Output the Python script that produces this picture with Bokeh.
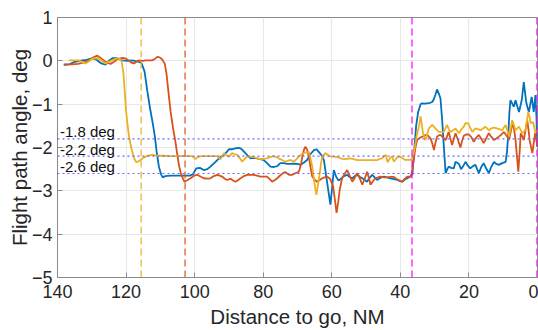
from bokeh.plotting import figure
from bokeh.models import Range1d, Span, Label, FixedTicker
from bokeh.embed import file_html
from bokeh.resources import INLINE

# ---------------- data ----------------
blue_x = [138.2, 136.5, 135.2, 132.8, 131.5, 130.0, 128.5, 127.2, 126.0, 125.0, 124.0, 122.6, 121.1, 119.5,
          118.2, 116.8, 115.5, 114.6, 113.8, 113.0, 112.2, 111.6, 111.0, 110.4, 109.8, 109.3, 108.6, 107.0,
          104.0, 101.5, 100.5, 99.5, 98.5, 97.3, 96.3, 95.4, 94.3, 93.4, 92.4, 91.5, 90.6, 90.0, 89.0, 88.1,
          87.2, 86.6, 85.9, 85.2, 84.4, 83.7, 82.7, 81.8, 80.8, 79.8, 78.9, 77.9, 76.9, 75.9, 75.0, 74.0,
          73.0, 72.0, 71.0, 70.0, 69.1, 68.2, 67.2, 66.2, 65.2, 64.5, 63.8, 63.0, 62.3, 61.8, 61.0, 60.4,
          60.0, 59.4, 58.7, 58.0, 57.3, 56.5, 55.5, 54.8, 54.0, 53.3, 52.6, 51.8, 51.1, 50.4, 49.7, 49.0,
          48.2, 47.5, 46.8, 45.8, 44.8, 43.9, 42.9, 41.9, 40.9, 40.2, 39.5, 38.7, 38.0, 37.2, 36.5, 35.9,
          35.4, 34.8, 34.1, 33.6, 32.9, 32.2, 31.4, 30.7, 30.2, 29.8, 29.3, 28.8, 28.3, 27.8, 27.3, 26.8,
          26.3, 25.9, 25.2, 24.4, 23.9, 22.9, 22.3, 21.6, 21.0, 20.3, 19.6, 18.8, 18.1, 17.6, 17.1, 16.4,
          15.7, 15.0, 14.2, 13.5, 12.7, 12.0, 11.3, 10.3, 9.3, 8.9, 8.5, 8.2, 7.9, 7.4, 6.9, 6.4, 5.9, 5.4,
          5.0, 4.6, 4.0, 3.6, 3.3, 2.9, 2.5, 2.1, 1.7, 1.4, 1.1, 0.8, 0.6, 0.3, 0.1]
blue_y = [-0.09, -0.08, -0.03, 0.01, 0.02, 0.06, 0.02, -0.06, -0.09, 0.0, 0.06, 0.06, 0.01, 0.0,
          0.01, -0.01, -0.05, -0.25, -0.7, -1.1, -1.45, -1.75, -2.15, -2.45, -2.62, -2.69, -2.66, -2.65,
          -2.65, -2.65, -2.62, -2.48, -2.47, -2.52, -2.5, -2.44, -2.36, -2.29, -2.22, -2.17, -2.1, -2.04, -2.04, -2.02,
          -2.01, -2.02, -2.07, -2.13, -2.2, -2.25, -2.24, -2.25, -2.27, -2.29, -2.36, -2.44, -2.45, -2.43, -2.36, -2.36,
          -2.38, -2.38, -2.37, -2.38, -2.40, -2.35, -2.29, -2.15, -2.06, -2.04, -2.10, -2.18, -2.29, -2.56, -3.0, -3.32,
          -3.0, -2.52, -2.68, -2.76, -2.72, -2.66, -2.63, -2.68, -2.71, -2.66, -2.63, -2.68, -2.71, -2.75, -2.79, -2.7,
          -2.63, -2.69, -2.75, -2.70, -2.67, -2.69, -2.71, -2.73, -2.75, -2.77, -2.79, -2.74, -2.71, -2.68, -2.62, -2.0,
          -1.5, -1.18, -1.0, -0.98, -0.99, -0.98, -0.97, -0.95, -0.88, -0.79, -0.66, -0.75, -0.87, -1.37, -2.0, -2.59,
          -2.5, -2.44, -2.47, -2.48, -2.33, -2.38, -2.5, -2.42, -2.33, -2.42, -2.48, -2.43, -2.40, -2.5, -2.59, -2.45,
          -2.36, -2.48, -2.59, -2.45, -2.33, -2.38, -2.40, -2.36, -2.33, -2.1, -1.67, -1.2, -0.91, -0.98, -1.06, -0.91, -1.05, -1.18,
          -1.05, -0.91, -0.49, -0.75, -0.95, -1.08, -1.18, -1.0, -0.83, -1.0, -1.18, -0.95, -0.79, -1.3, -1.98]

orange_x = [138.0, 136.0, 134.0, 132.5, 131.0, 129.5, 128.4, 127.5, 126.5, 125.5, 124.5, 123.5, 122.5, 121.1,
            120.0, 119.2, 118.5, 117.7, 117.0, 116.3, 115.0, 114.3, 113.0, 112.4, 111.5, 110.9, 110.2, 109.7,
            109.2, 108.7, 108.2, 107.6, 107.0, 106.3, 105.6, 105.0, 104.6, 104.0, 103.4, 103.0, 102.3, 101.2,
            100.2, 99.3, 98.3, 97.3, 96.3, 95.4, 94.4, 93.4, 92.7, 92.0, 91.2, 90.5, 89.5, 88.8, 88.1, 87.3,
            86.6, 85.6, 84.7, 83.7, 82.7, 81.8, 80.8, 79.8, 78.9, 78.1, 77.4, 76.6, 75.9, 75.0, 74.0, 73.5,
            72.5, 71.5, 70.5, 69.6, 69.0, 68.6, 68.1, 67.7, 67.2, 66.7, 66.2, 65.7, 65.0, 64.3, 63.5, 62.8,
            62.1, 61.4, 60.5, 59.6, 59.1, 58.6, 58.1, 57.7, 57.0, 56.2, 55.5, 54.8, 54.0, 53.3, 52.6, 51.8,
            51.1, 50.4, 49.7, 49.2, 48.7, 48.0, 47.3, 46.5, 45.8, 44.8, 43.9, 42.9, 41.9, 41.2, 40.5, 39.5,
            38.8, 38.0, 36.9, 36.5, 36.1, 35.6, 35.1, 34.4, 33.6, 32.9, 32.2, 31.7, 31.2, 30.7, 30.2, 29.8,
            29.3, 28.8, 28.3, 27.5, 26.8, 25.9, 25.4, 24.9, 24.4, 23.9, 23.2, 22.5, 22.0, 21.5, 20.8, 20.0,
            19.3, 18.6, 17.9, 17.1, 16.4, 15.7, 14.9, 14.2, 13.5, 12.7, 12.0, 11.3, 10.5, 9.8, 9.0, 8.3,
            7.7, 7.2, 6.8, 6.4, 6.0, 5.6, 5.2, 4.9, 4.4, 4.0, 3.5, 3.0, 2.6, 2.3, 1.9, 1.5, 1.1, 0.7, 0.3, 0.0]
orange_y = [-0.08, -0.08, -0.07, -0.04, 0.0, 0.08, 0.12, 0.07, 0.01, -0.05, -0.07, -0.02, 0.04, 0.07,
            0.05, 0.01, -0.04, -0.06, -0.02, 0.01, 0.0, 0.01, 0.01, 0.01, 0.05, 0.09, 0.08, 0.05,
            0.0, -0.07, -0.3, -0.75, -1.18, -1.55, -1.87, -2.2, -2.40, -2.6, -2.72, -2.79, -2.76, -2.71,
            -2.65, -2.63, -2.67, -2.71, -2.72, -2.71, -2.66, -2.63, -2.65, -2.67, -2.72, -2.75, -2.72, -2.76, -2.79, -2.75,
            -2.71, -2.66, -2.63, -2.63, -2.63, -2.65, -2.67, -2.67, -2.67, -2.73, -2.79, -2.75, -2.71, -2.64, -2.58, -2.57,
            -2.63, -2.63, -2.59, -2.56, -2.4, -2.21, -2.05, -1.98, -2.05, -2.21, -2.45, -2.67, -2.74, -2.79, -2.75, -2.71,
            -2.69, -2.67, -2.72, -2.90, -3.2, -3.51, -3.25, -2.98, -2.71, -2.6, -2.52, -2.65, -2.79, -2.7, -2.59, -2.72,
            -2.86, -2.72, -2.56, -2.7, -2.86, -2.78, -2.71, -2.69, -2.67, -2.69, -2.69, -2.68, -2.68, -2.72, -2.75, -2.79,
            -2.73, -2.67, -2.67, -2.5, -2.29, -2.0, -1.83, -1.78, -1.75, -1.72, -1.71, -1.75, -1.79, -1.9, -2.06, -1.9,
            -1.75, -1.72, -1.71, -1.77, -1.83, -1.64, -1.8, -1.94, -1.8, -1.67, -1.82, -2.0, -1.85, -1.73, -1.7, -1.7,
            -1.76, -1.87, -1.78, -1.71, -1.8, -1.90, -1.78, -1.67, -1.75, -1.83, -1.79, -1.75, -1.7, -1.64, -1.73, -1.83,
            -1.6, -1.41, -1.6, -1.83, -2.2, -2.56, -2.1, -1.67, -1.75, -1.83, -1.6, -1.37, -1.6, -1.83, -1.98, -2.13, -1.9, -1.67, -1.85, -1.98]

yellow_x = [136.7, 135.0, 133.8, 132.8, 131.8, 130.8, 129.9, 128.0, 127.0, 126.0, 125.0, 124.1, 123.3, 122.6,
            121.4, 120.8, 120.4, 120.0, 119.6, 119.2, 118.7, 118.2, 117.6, 117.0, 116.4, 115.8, 115.0, 114.3,
            113.3, 112.4, 111.0, 109.5, 107.0, 104.0, 101.0, 100.3, 99.8, 99.2, 98.0, 95.0, 93.5, 92.5, 91.9,
            91.5, 90.7, 90.0, 89.1, 88.4, 87.6, 86.8, 86.1, 85.4, 84.7, 83.7, 82.7, 81.8, 80.8, 79.8, 78.9,
            77.9, 76.9, 76.2, 75.5, 74.5, 73.5, 72.7, 72.0, 71.1, 70.3, 69.6, 68.9, 68.2, 67.4, 66.7, 66.2,
            65.7, 65.1, 64.5, 64.0, 63.5, 63.1, 62.8, 61.9, 61.1, 60.4, 59.4, 58.4, 57.4, 56.5, 55.5, 54.6,
            53.6, 52.6, 51.6, 50.7, 49.7, 48.7, 47.7, 46.8, 46.0, 45.3, 44.8, 44.3, 43.7, 43.0, 42.4, 41.9,
            41.3, 40.9, 40.0, 39.2, 38.5, 37.7, 36.9, 36.4, 36.1, 35.6, 35.3, 34.9, 34.6, 34.1, 33.8, 33.4,
            32.7, 32.2, 31.7, 30.7, 29.8, 28.8, 28.0, 27.3, 26.8, 26.4, 25.9, 25.4, 24.6, 23.9, 23.4, 22.9,
            22.2, 21.5, 21.0, 20.2, 19.6, 19.0, 18.1, 17.3, 16.6, 15.9, 15.2, 14.2, 13.5, 12.7, 11.8, 11.0,
            10.3, 9.8, 9.3, 8.8, 8.3, 7.8, 7.4, 6.9, 6.4, 5.9, 5.4, 4.9, 4.5, 3.5, 3.1, 2.7, 2.3, 2.0, 1.3, 0.9, 0.6, 0.0]
yellow_y = [0.01, 0.01, 0.01, -0.03, -0.06, -0.01, 0.05, 0.06, 0.0, -0.06, -0.02, 0.01, 0.04, 0.06,
            0.03, -0.26, -0.7, -1.15, -1.45, -1.71, -1.93, -2.10, -2.26, -2.34, -2.32, -2.29, -2.24, -2.21,
            -2.18, -2.17, -2.19, -2.19, -2.2, -2.2, -2.2, -2.22, -2.27, -2.22, -2.2, -2.2, -2.2, -2.27, -2.2,
            -2.13, -2.18, -2.21, -2.13, -2.15, -2.17, -2.25, -2.33, -2.26, -2.21, -2.21, -2.22, -2.25, -2.27, -2.26, -2.25,
            -2.22, -2.20, -2.22, -2.25, -2.29, -2.33, -2.30, -2.29, -2.33, -2.27, -2.21, -2.16, -2.13, -2.11, -2.10, -2.25,
            -2.44, -2.8, -3.09, -2.85, -2.59, -2.35, -2.21, -2.13, -2.17, -2.21, -2.21, -2.22, -2.25, -2.27, -2.26, -2.25,
            -2.27, -2.29, -2.29, -2.29, -2.29, -2.29, -2.29, -2.29, -2.26, -2.25, -2.2, -2.17, -2.34, -2.24, -2.21, -2.33,
            -2.27, -2.22, -2.21, -2.26, -2.29, -2.28, -2.29, -2.2, -2.13, -1.9, -1.75, -1.62, -1.52, -1.28, -1.45, -1.67,
            -1.83, -1.7, -1.56, -1.48, -1.56, -1.64, -1.64, -1.64, -1.55, -1.48, -1.57, -1.64, -1.6, -1.56, -1.62, -1.67,
            -1.58, -1.52, -1.44, -1.44, -1.55, -1.64, -1.56, -1.58, -1.60, -1.56, -1.52, -1.60, -1.56, -1.54, -1.56, -1.58,
            -1.60, -1.54, -1.48, -1.6, -1.75, -1.55, -1.37, -1.48, -1.60, -1.56, -1.52, -1.6, -1.67, -1.60, -1.4, -1.18, -1.3, -1.44, -1.41, -1.55, -1.67, -1.60]

ref_angles = [-1.8, -2.2, -2.6]
ref_labels = ["-1.8 deg", "-2.2 deg", "-2.6 deg"]
marker_dist = [115.6, 102.8, 36.6, 0.15]
marker_colors = ["#EDB120", "#D95319", "#FF00FF", "#FF00FF"]

x_ticks = [0, 20, 40, 60, 80, 100, 120, 140]
y_ticks = [-5, -4, -3, -2, -1, 0, 1]

# ---------------- figure ----------------
FONT = "Liberation Sans"
TXT = "#262626"

p = figure(width=538, height=330, output_backend="svg", toolbar_location=None,
           x_range=Range1d(140, 0), y_range=Range1d(-5, 1),
           min_border_left=57, min_border_right=1, min_border_top=17, min_border_bottom=52)

p.outline_line_color = "#8a8a8a"
p.outline_line_width = 1
p.background_fill_color = "white"
p.border_fill_color = "white"

for ax in (p.xaxis, p.yaxis):
    ax.axis_line_color = "#8a8a8a"
    ax.major_tick_line_color = "#8a8a8a"
    ax.major_tick_in = 5
    ax.major_tick_out = 0
    ax.minor_tick_line_color = None
    ax.major_label_text_font = FONT
    ax.major_label_text_font_size = "18px"
    ax.major_label_text_color = TXT
    ax.axis_label_text_font = FONT
    ax.axis_label_text_font_size = "20.5px"
    ax.axis_label_text_font_style = "normal"
    ax.axis_label_text_color = TXT

p.xaxis.ticker = FixedTicker(ticks=x_ticks)
p.yaxis.ticker = FixedTicker(ticks=y_ticks)
p.xaxis.axis_label = "Distance to go, NM"
p.yaxis.axis_label = "Flight path angle, deg"
p.xaxis.major_label_standoff = 7
p.xaxis.axis_label_standoff = 4
p.yaxis.major_label_standoff = 5
p.yaxis.axis_label_standoff = -2

p.xgrid.grid_line_color = "#e8e8e8"
p.ygrid.grid_line_color = "#e8e8e8"
p.xgrid.ticker = FixedTicker(ticks=x_ticks)
p.ygrid.ticker = FixedTicker(ticks=y_ticks)

p.line(blue_x, blue_y, line_color="#0072BD", line_width=1.8)
p.line(orange_x, orange_y, line_color="#D95319", line_width=1.8)
p.line(yellow_x, yellow_y, line_color="#EDB120", line_width=1.8)

for a, lab in zip(ref_angles, ref_labels):
    p.add_layout(Span(location=a, dimension="width", line_color="#6a6aff",
                      line_width=1.2, line_dash="2 3"))
    p.add_layout(Label(x=139.3, y=a, text=lab, text_font=FONT, text_font_size="15px",
                       text_color="#111111", text_baseline="alphabetic", y_offset=7))

for d, c in zip(marker_dist, marker_colors):
    p.add_layout(Span(location=d, dimension="height", line_color=c,
                      line_width=1.2, line_dash="7 4"))

open("out.html", "w").write(file_html(p, INLINE))
